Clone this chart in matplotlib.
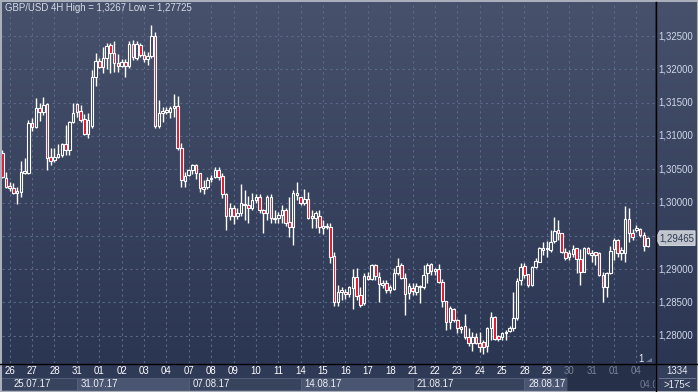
import numpy as np
import matplotlib.pyplot as plt
from matplotlib.colors import LinearSegmentedColormap
from matplotlib.patches import Rectangle, Polygon

plt.rcParams['font.family'] = ['Liberation Sans', 'DejaVu Sans']

# GBP/USD 4H candles (first one is cut by the left edge)
opens = [1.3074, 1.3037, 1.3025, 1.3022, 1.3014, 1.3016, 1.3044, 1.3044, 1.3119, 1.3113,
         1.3142, 1.3136, 1.3148, 1.3068, 1.3064, 1.3068, 1.3071, 1.3088, 1.3079, 1.3121,
         1.3148, 1.3137, 1.3125, 1.3103, 1.3115, 1.3188, 1.3213, 1.3203, 1.3217, 1.3237,
         1.3224, 1.3209, 1.3205, 1.3211, 1.3205, 1.3238, 1.3217, 1.3237, 1.3222, 1.3215,
         1.3220, 1.3250, 1.3115, 1.3134, 1.3136, 1.3136, 1.3142, 1.3145, 1.3082, 1.3032,
         1.3041, 1.3049, 1.3056, 1.3044, 1.3020, 1.3023, 1.3035, 1.3038, 1.3049, 1.3040,
         1.3013, 1.2980, 1.2992, 1.2980, 1.2984, 1.2996, 1.2996, 1.2992, 1.3004, 1.3008,
         1.2989, 1.2984, 1.3008, 1.2975, 1.2977, 1.2981, 1.2989, 1.2971, 1.2963, 1.3011,
         1.3008, 1.2999, 1.3005, 1.2977, 1.2977, 1.2980, 1.2962, 1.2963, 1.2963, 1.2920,
         1.2851, 1.2866, 1.2866, 1.2863, 1.2872, 1.2888, 1.2861, 1.2849, 1.2890, 1.2885,
         1.2906, 1.2888, 1.2876, 1.2879, 1.2869, 1.2870, 1.2894, 1.2906, 1.2887, 1.2864,
         1.2872, 1.2866, 1.2873, 1.2873, 1.2894, 1.2908, 1.2897, 1.2900, 1.2881, 1.2852,
         1.2821, 1.2840, 1.2824, 1.2810, 1.2815, 1.2798, 1.2789, 1.2798, 1.2789, 1.2791,
         1.2785, 1.2812, 1.2828, 1.2800, 1.2798, 1.2804, 1.2807, 1.2812, 1.2827, 1.2884,
         1.2905, 1.2893, 1.2876, 1.2903, 1.2911, 1.2929, 1.2930, 1.2929, 1.2942, 1.2959,
         1.2954, 1.2926, 1.2918, 1.2923, 1.2932, 1.2915, 1.2896, 1.2932, 1.2921, 1.2926,
         1.2924, 1.2891, 1.2873, 1.2894, 1.2930, 1.2944, 1.2924, 1.2924, 1.2975, 1.2954,
         1.2959, 1.2960, 1.2951, 1.2935]
highs = [1.3079, 1.3046, 1.3031, 1.3029, 1.3023, 1.3062, 1.3067, 1.3124, 1.3127, 1.3157,
         1.3149, 1.3159, 1.3149, 1.3082, 1.3082, 1.3088, 1.3089, 1.3116, 1.3122, 1.3149,
         1.3149, 1.3146, 1.3133, 1.3134, 1.3199, 1.3224, 1.3217, 1.3233, 1.3240, 1.3240,
         1.3243, 1.3223, 1.3215, 1.3215, 1.3243, 1.3244, 1.3243, 1.3240, 1.3228, 1.3226,
         1.3267, 1.3256, 1.3154, 1.3143, 1.3143, 1.3145, 1.3163, 1.3160, 1.3089, 1.3046,
         1.3050, 1.3058, 1.3058, 1.3044, 1.3034, 1.3038, 1.3041, 1.3053, 1.3053, 1.3044,
         1.3014, 1.2999, 1.2996, 1.2992, 1.3028, 1.3019, 1.3010, 1.3014, 1.3013, 1.3013,
         1.2990, 1.3011, 1.3013, 1.2989, 1.2986, 1.2996, 1.2992, 1.3008, 1.3019, 1.3031,
         1.3008, 1.3020, 1.3016, 1.2989, 1.2987, 1.2989, 1.2974, 1.2969, 1.2969, 1.2926,
         1.2876, 1.2873, 1.2870, 1.2875, 1.2900, 1.2902, 1.2873, 1.2894, 1.2896, 1.2908,
         1.2908, 1.2896, 1.2884, 1.2884, 1.2876, 1.2902, 1.2917, 1.2909, 1.2894, 1.2879,
         1.2879, 1.2879, 1.2876, 1.2906, 1.2909, 1.2909, 1.2902, 1.2908, 1.2885, 1.2852,
         1.2845, 1.2842, 1.2825, 1.2815, 1.2833, 1.2812, 1.2806, 1.2804, 1.2806, 1.2794,
         1.2813, 1.2836, 1.2830, 1.2801, 1.2806, 1.2809, 1.2815, 1.2866, 1.2887, 1.2909,
         1.2909, 1.2893, 1.2905, 1.2917, 1.2933, 1.2941, 1.2942, 1.2959, 1.2978, 1.2974,
         1.2954, 1.2932, 1.2929, 1.2936, 1.2932, 1.2930, 1.2933, 1.2933, 1.2929, 1.2926,
         1.2926, 1.2896, 1.2896, 1.2935, 1.2947, 1.2945, 1.2933, 1.2995, 1.2992, 1.2960,
         1.2966, 1.2962, 1.2956, 1.2948]
lows = [1.3037, 1.3022, 1.3017, 1.3013, 1.2998, 1.3008, 1.3043, 1.3043, 1.3107, 1.3112,
        1.3122, 1.3131, 1.3049, 1.3056, 1.3061, 1.3067, 1.3068, 1.3071, 1.3071, 1.3119,
        1.3128, 1.3121, 1.3101, 1.3097, 1.3112, 1.3175, 1.3202, 1.3194, 1.3200, 1.3194,
        1.3196, 1.3196, 1.3203, 1.3188, 1.3202, 1.3214, 1.3214, 1.3218, 1.3211, 1.3207,
        1.3217, 1.3112, 1.3112, 1.3121, 1.3133, 1.3127, 1.3128, 1.3079, 1.3023, 1.3023,
        1.3040, 1.3043, 1.3035, 1.3016, 1.3013, 1.3020, 1.3031, 1.3037, 1.3034, 1.3007,
        1.2959, 1.2974, 1.2968, 1.2975, 1.2980, 1.2974, 1.2969, 1.2989, 1.2999, 1.2984,
        1.2954, 1.2974, 1.2969, 1.2969, 1.2969, 1.2969, 1.2965, 1.2948, 1.2936, 1.3004,
        1.2996, 1.2996, 1.2975, 1.2962, 1.2962, 1.2954, 1.2953, 1.2960, 1.2909, 1.2845,
        1.2845, 1.2854, 1.2855, 1.2858, 1.2840, 1.2854, 1.2843, 1.2846, 1.2884, 1.2884,
        1.2884, 1.2851, 1.2872, 1.2864, 1.2864, 1.2869, 1.2891, 1.2885, 1.2831, 1.2855,
        1.2861, 1.2861, 1.2849, 1.2870, 1.2879, 1.2891, 1.2891, 1.2879, 1.2843, 1.2809,
        1.2810, 1.2821, 1.2804, 1.2804, 1.2795, 1.2785, 1.2777, 1.2788, 1.2776, 1.27725,
        1.2776, 1.2794, 1.2794, 1.2792, 1.2794, 1.2794, 1.2806, 1.2807, 1.2824, 1.2876,
        1.2887, 1.2873, 1.2875, 1.2902, 1.2911, 1.2921, 1.2918, 1.2926, 1.2939, 1.2944,
        1.2924, 1.2914, 1.2914, 1.2918, 1.2894, 1.2876, 1.2896, 1.2923, 1.2911, 1.2906,
        1.2890, 1.2851, 1.2858, 1.2893, 1.2914, 1.2918, 1.2914, 1.2911, 1.2941, 1.2944,
        1.2956, 1.2948, 1.2927, 1.2933]
closes = [1.3038, 1.3023, 1.3022, 1.3014, 1.3017, 1.3046, 1.3047, 1.3119, 1.3113, 1.3142,
          1.3136, 1.3146, 1.3067, 1.3062, 1.3068, 1.3073, 1.3088, 1.3079, 1.3121, 1.3134,
          1.3136, 1.3124, 1.3103, 1.3124, 1.3188, 1.3213, 1.3203, 1.3217, 1.3235, 1.3224,
          1.3209, 1.3205, 1.3211, 1.3205, 1.3238, 1.3218, 1.3238, 1.3222, 1.3215, 1.3220,
          1.3250, 1.3115, 1.3134, 1.3137, 1.3139, 1.3142, 1.3145, 1.3082, 1.3034, 1.3040,
          1.3049, 1.3056, 1.3044, 1.3022, 1.3023, 1.3034, 1.3037, 1.3049, 1.3038, 1.3013,
          1.2980, 1.2992, 1.2980, 1.2984, 1.2999, 1.2998, 1.2992, 1.3004, 1.3008, 1.2989,
          1.2984, 1.3008, 1.2977, 1.2977, 1.2981, 1.2989, 1.2969, 1.2963, 1.3014, 1.3014,
          1.2999, 1.3005, 1.2977, 1.2978, 1.2984, 1.2963, 1.2963, 1.2965, 1.2918, 1.2851,
          1.2866, 1.2867, 1.2863, 1.2873, 1.2888, 1.2860, 1.2846, 1.2890, 1.2885, 1.2906,
          1.2890, 1.2878, 1.2879, 1.2869, 1.2873, 1.2894, 1.2905, 1.2887, 1.2863, 1.2875,
          1.2867, 1.2875, 1.2875, 1.2891, 1.2906, 1.2897, 1.2900, 1.2881, 1.2852, 1.2821,
          1.2842, 1.2824, 1.2812, 1.2813, 1.2798, 1.2789, 1.2798, 1.2789, 1.2783, 1.2783,
          1.2812, 1.2828, 1.2795, 1.2795, 1.2804, 1.2806, 1.2812, 1.2827, 1.2882, 1.2903,
          1.2891, 1.2876, 1.2903, 1.2912, 1.2932, 1.2932, 1.2932, 1.2941, 1.2957, 1.2954,
          1.2926, 1.2917, 1.2924, 1.2930, 1.2915, 1.2896, 1.2932, 1.2924, 1.2924, 1.2921,
          1.2891, 1.2873, 1.2894, 1.2927, 1.2944, 1.2924, 1.2929, 1.2975, 1.2954, 1.2948,
          1.2962, 1.2951, 1.2935, 1.29465]

day_labels = ['26', '27', '28', '31', '01', '02', '03', '04', '07', '08', '09', '10', '11', '14', '15',
              '16', '17', '18', '21', '22', '23', '24', '25', '28', '29', '30', '31', '01', '04']
week_labels = ['25.07.17', '31.07.17', '07.08.17', '14.08.17', '21.08.17', '28.08.17']
week_start_day = [0, 3, 8, 13, 18, 23]
price_ticks = [1.280, 1.285, 1.290, 1.295, 1.300, 1.305, 1.310, 1.315, 1.320, 1.325]
last_price = 1.29465

W, H = 698, 392
fig = plt.figure(figsize=(W / 100, H / 100), dpi=100)
fig.patch.set_facecolor('#2e3955')


def px_axes(x0, y0, x1, y1):
    # pixel box with the origin at the top-left of the picture
    a = fig.add_axes([x0 / W, 1 - y1 / H, (x1 - x0) / W, (y1 - y0) / H])
    for s in a.spines.values():
        s.set_visible(False)
    a.set_xticks([])
    a.set_yticks([])
    return a


bg_cmap = LinearSegmentedColormap.from_list('bg', ['#47516b', '#2b3653'])
grad = np.linspace(0, 1, 256).reshape(-1, 1)

xlo, xhi = -1.07, 174.0
ylo, yhi = 1.27590, 1.33011
ppu = 653 / (xhi - xlo)  # pixels per candle

ax = px_axes(2, 2, 655, 363)
ax.set_xlim(xlo, xhi)
ax.set_ylim(ylo, yhi)
ax.imshow(grad, cmap=bg_cmap, aspect='auto', extent=[xlo, xhi, ylo, yhi], zorder=0)

day_x = [1 + 6 * d for d in range(len(day_labels))]
grid_kw = dict(color='#5b698a', lw=0.8, linestyle=(0, (2, 3)), zorder=1)
for x in day_x:
    ax.axvline(x, **grid_kw)
for p in price_ticks:
    ax.axhline(p, **grid_kw)

o = np.array(opens)
hi = np.array(highs)
lo = np.array(lows)
c = np.array(closes)
idx = np.arange(len(o)) - 1
up = c >= o
ax.vlines(idx, lo, hi, color='white', lw=1, zorder=2)
body_low = np.minimum(o, c)
body_h = np.maximum(np.abs(c - o), 0.00022)
ax.bar(idx, body_h, bottom=body_low, width=0.68,
       color=np.where(up, '#36425f', '#e3102c'), edgecolor='white', linewidth=0.8, zorder=3)

ax.text(0.004, 0.983, 'GBP/USD 4H High = 1,3267 Low = 1,27725', transform=ax.transAxes,
        fontsize=6.9, color='#d6dce8', va='center', ha='left', zorder=5)
ax.text(170.3, 1.27655, '1', fontsize=6.9, color='#e8ecf4', ha='center', va='center', zorder=5)
ax.add_patch(Polygon([[171.6, 1.27610], [173.2, 1.27610], [173.2, 1.27660]], closed=True,
                     facecolor='#6c7690', edgecolor='none', zorder=5))

# right price scale (the 1,29500 line is covered by the last-price marker)
ar = px_axes(656, 2, 698, 363)
ar.set_ylim(ylo, yhi)
ar.set_xlim(0, 1)
ar.imshow(grad, cmap=bg_cmap, aspect='auto', extent=[0, 1, ylo, yhi], zorder=0)
for p in price_ticks:
    if abs(p - last_price) < 0.0015:
        continue
    ar.text(0.05, p, f'{p:.5f}'.replace('.', ','), fontsize=6.9, color='#d0d9ea',
            va='center', ha='left', zorder=2)
ar.add_patch(Polygon([[0.0, last_price], [0.09, last_price + 0.0011], [0.93, last_price + 0.0011],
                      [0.93, last_price - 0.0011], [0.09, last_price - 0.0011]],
                     closed=True, facecolor='#bfc4cd', edgecolor='#e0e3e8', lw=0.6, zorder=3))
ar.text(0.5, last_price, f'{last_price:.5f}'.replace('.', ','), fontsize=6.9, color='#2e3850',
        ha='center', va='center', zorder=4)

# bottom date strip
bx = px_axes(0, 364, 655, 392)
bx.set_xlim(xlo - 2 / ppu, xhi)
bx.set_ylim(0, 1)
bx.set_facecolor('#2f3a56')
for i, (lab, d0) in enumerate(zip(week_labels, week_start_day)):
    start = xlo - 2 / ppu if i == 0 else day_x[d0]
    end = day_x[week_start_day[i + 1]] if i + 1 < len(week_labels) else 150.5
    fc = '#4a5571' if i % 2 == 1 else '#38435e'
    bx.add_patch(Rectangle((start, 0.06), end - start, 0.44, facecolor=fc,
                           edgecolor='#56617c', lw=0.6, zorder=1))
    bx.text((day_x[0] if i == 0 else start) + 1.0, 0.28, lab, fontsize=6.9, color='#eef1f6',
            ha='left', va='center', zorder=3)
for x, lab in zip(day_x, day_labels):
    col = '#ffffff' if x < 150.5 else '#7a8499'
    bx.text(x, 0.75, lab, fontsize=6.9, color=col, ha='center', va='center', zorder=3)
bx.add_patch(Rectangle((150.5, 0), xhi - 150.5, 1, facecolor='#1f2840', alpha=0.55,
                       edgecolor='none', zorder=2))
bx.text(day_x[-1] + 1.0, 0.25, '04.0', fontsize=6.9, color='#6f7990', ha='left', va='center',
        zorder=3, clip_on=True)

# bottom-right counter box
bc = px_axes(656, 364, 698, 392)
bc.set_xlim(0, 1)
bc.set_ylim(0, 1)
bc.set_facecolor('#34405b')
bc.axhline(0.5, xmin=0.08, xmax=0.92, color='#6a7590', lw=0.7)
bc.text(0.5, 0.76, '1334', fontsize=6.9, color='#e6eaf2', ha='center', va='center')
bc.text(0.5, 0.25, '>175<', fontsize=6.9, color='#e6eaf2', ha='center', va='center')

# black separators and outer frame
fig.add_artist(plt.Line2D([655.5 / W, 655.5 / W], [0, 1 - 2 / H], color='black', lw=1))
fig.add_artist(plt.Line2D([0, 1], [1 - 363.5 / H, 1 - 363.5 / H], color='black', lw=1))
fig.add_artist(Rectangle((0, 0), 1, 1, transform=fig.transFigure, fill=False,
                         edgecolor='#a9afbb', lw=2.2))

fig.savefig('out.png', dpi=100)
